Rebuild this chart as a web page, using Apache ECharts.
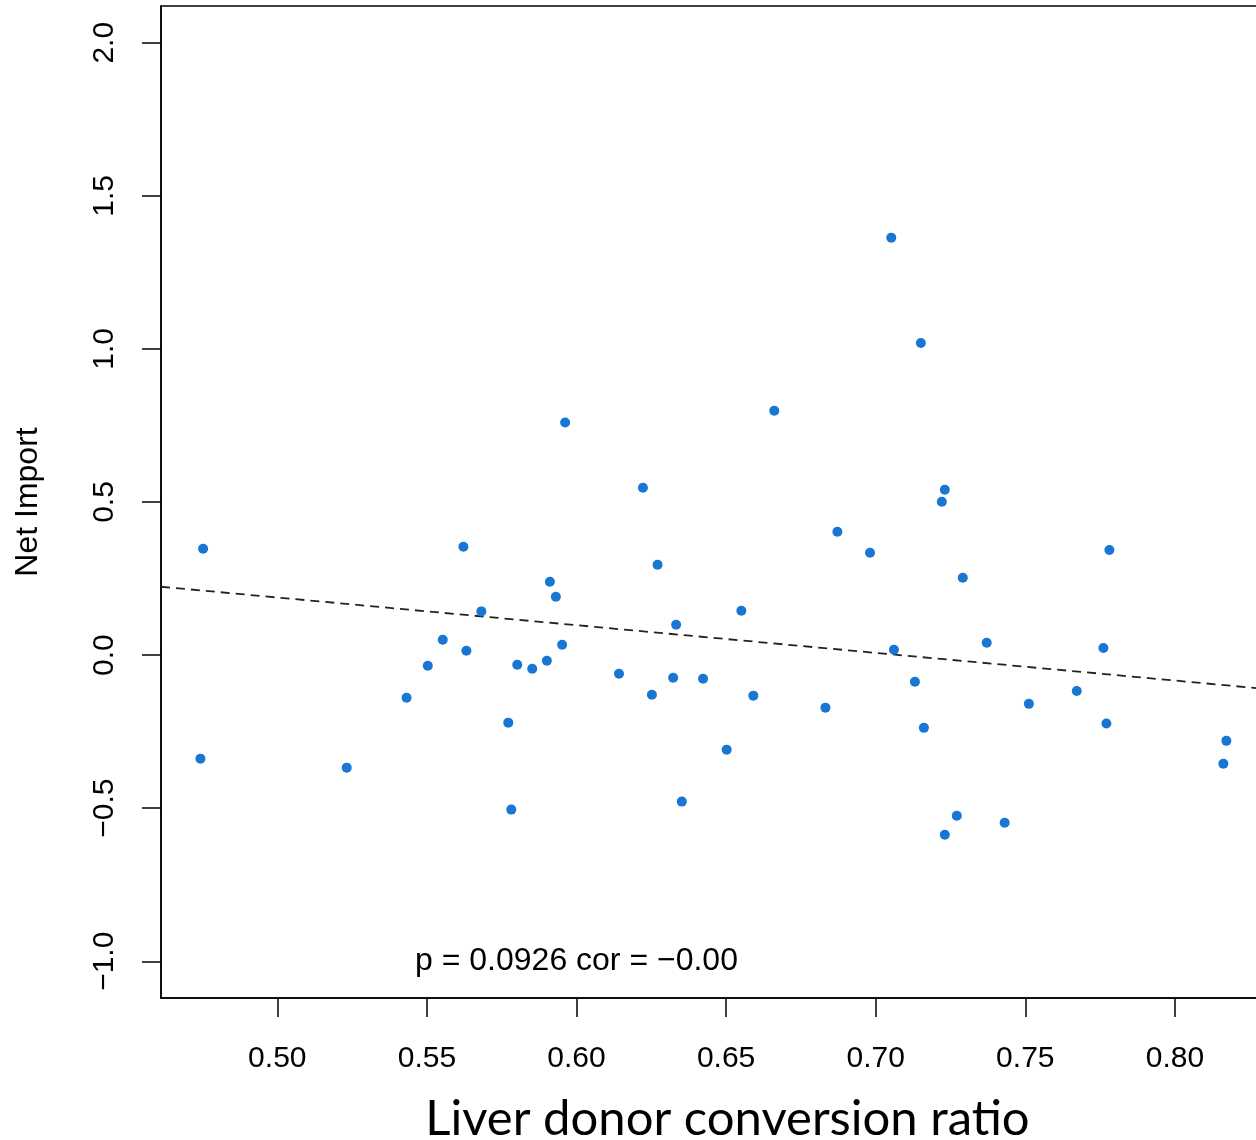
<!DOCTYPE html>
<html>
<head>
<meta charset="utf-8">
<script src="https://cdn.jsdelivr.net/npm/echarts@6/dist/echarts.min.js"></script>
<style>
html,body{margin:0;padding:0;background:#fff;overflow:hidden;}
#chart{width:1256px;height:1140px;}
</style>
</head>
<body>
<div id="chart"></div>
<script>
// ---- data ----
const donorRatio = [
  0.4752, 0.4743, 0.5232, 0.5432, 0.5503, 0.5553, 0.5622, 0.5632, 0.5682, 0.5772,
  0.5782, 0.5802, 0.5852, 0.5901, 0.5911, 0.5931, 0.5952, 0.5962, 0.6142, 0.6222,
  0.6252, 0.6271, 0.6323, 0.6333, 0.6352, 0.6423, 0.6502, 0.6551, 0.6591, 0.6661,
  0.6832, 0.6872, 0.6981, 0.7052, 0.7061, 0.7131, 0.7151, 0.7161, 0.7221, 0.7231,
  0.7231, 0.7271, 0.7291, 0.7371, 0.7431, 0.7512, 0.7672, 0.7761, 0.7771, 0.7781,
  0.8162, 0.8172
];
const netImport = [
  0.3474, -0.3382, -0.3676, -0.1391, -0.0346, 0.0503, 0.3539, 0.0144, 0.1427, -0.2207,
  -0.5047, -0.0313, -0.0444, -0.0183, 0.2396, 0.1907, 0.0340, 0.7597, -0.0607, 0.5465,
  -0.1293, 0.2951, -0.0738, 0.0992, -0.4786, -0.0770, -0.3088, 0.1450, -0.1325, 0.7979,
  -0.1717, 0.4029, 0.3343, 1.3634, 0.0176, -0.0872, 1.0196, -0.2377, 0.5008, 0.5400,
  -0.5870, -0.5250, 0.2527, 0.0402, -0.5478, -0.1593, -0.1175, 0.0232, -0.2236, 0.3435,
  -0.3549, -0.2801
];
// fitted line (dashed): netImport = intercept + slope * donorRatio
const fitIntercept = 0.6403;
const fitSlope = -0.9044;
// axis ticks
const xTicks = [0.50, 0.55, 0.60, 0.65, 0.70, 0.75, 0.80];
const yTicks = [-1.0, -0.5, 0.0, 0.5, 1.0, 1.5, 2.0];
const xLimits = [0.46113, 0.83078];
const yLimits = [-1.12, 2.12];
// annotation
const annotationText = 'p = 0.0926 cor = \u22120.00';
const annotationAt = [0.60, -1.0];
const xTitle = 'Liver donor conversion ratio';
const yTitle = 'Net Import';

// ---- build ----
const points = donorRatio.map((x, i) => [x, netImport[i]]);
const fitLine = xLimits.map(x => [x, fitIntercept + fitSlope * x]);
const fmtNum = (v, d) => (v < 0 ? '\u2212' : '') + Math.abs(v).toFixed(d);
const numFont = '"Liberation Sans", Arial, Helvetica, sans-serif';

const chart = echarts.init(document.getElementById('chart'), null, {renderer: 'canvas'});
chart.setOption({
  animation: false,
  backgroundColor: '#fff',
  grid: {
    left: 161, top: 6, width: 1106, height: 992,
    containLabel: false,
    outerBoundsMode: 'none',
    show: true, borderColor: '#000', borderWidth: 1.5, backgroundColor: 'transparent'
  },
  xAxis: {
    type: 'value',
    min: xLimits[0], max: xLimits[1],
    name: xTitle,
    nameLocation: 'middle',
    nameGap: 97,
    nameTextStyle: {fontFamily: 'Lato, "Open Sans", sans-serif', fontSize: 49, color: '#000', padding: [0, 0, 0, 27]},
    axisLine: {show: true, onZero: false, lineStyle: {color: '#000', width: 1.5}},
    axisTick: {show: true, length: 19, customValues: xTicks, lineStyle: {color: '#000', width: 1.5}},
    axisLabel: {
      customValues: xTicks, margin: 46, fontFamily: numFont, fontSize: 30, color: '#000',
      formatter: v => fmtNum(v, 2)
    },
    splitLine: {show: false}
  },
  yAxis: {
    type: 'value',
    min: yLimits[0], max: yLimits[1],
    name: yTitle,
    nameLocation: 'middle',
    nameGap: 117,
    nameTextStyle: {fontFamily: numFont, fontSize: 32, color: '#000'},
    axisLine: {show: true, onZero: false, lineStyle: {color: '#000', width: 1.5}},
    axisTick: {show: true, length: 19, customValues: yTicks, lineStyle: {color: '#000', width: 1.5}},
    axisLabel: {
      customValues: yTicks, rotate: 90, margin: 41, fontFamily: numFont, fontSize: 30, color: '#000',
      formatter: v => fmtNum(v, 1)
    },
    splitLine: {show: false}
  },
  series: [
    {
      type: 'line',
      data: fitLine,
      symbol: 'none',
      silent: true,
      lineStyle: {color: '#222', width: 1.8, type: [9, 6]},
      z: 1
    },
    {
      type: 'scatter',
      data: points,
      symbol: 'circle',
      symbolSize: 10,
      itemStyle: {color: '#1976D2', opacity: 1},
      z: 2
    },
    {
      type: 'scatter',
      data: [annotationAt],
      symbolSize: 0,
      silent: true,
      label: {
        show: true, position: 'inside', formatter: annotationText,
        fontFamily: numFont, fontSize: 32, color: '#000', opacity: 1
      },
      z: 3
    }
  ]
});
</script>
</body>
</html>
